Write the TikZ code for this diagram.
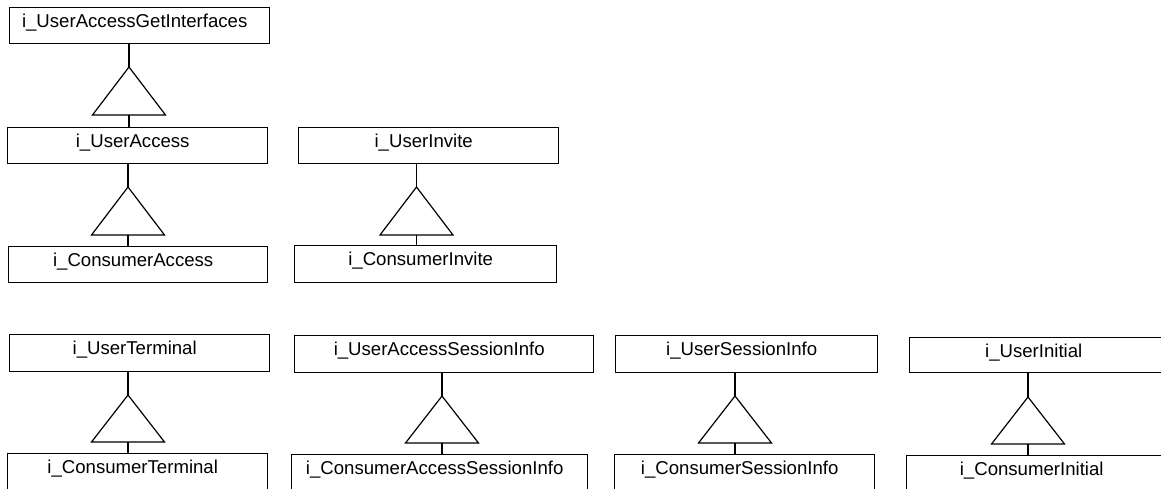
\documentclass[tikz,border=0pt]{standalone}
\usepackage{fontspec}
\setmainfont{Liberation Sans}
\begin{document}
\begin{tikzpicture}[x=1pt, y=-1pt, line width=1.4pt,
  box/.style={draw, rectangle, anchor=north west, inner xsep=0pt, inner ysep=0pt,
    text height=20pt, font=\fontsize{18.6}{22}\selectfont,
    execute at end node=\hspace{10pt}},
  bhead/.style={text depth=16pt},
  btail/.style={text depth=20pt}]
% page frame: the lower row and the right column run past the edge
\useasboundingbox (0,0) rectangle (1161,489);
\fill[white] (0,0) rectangle (1161,489);
\clip (0,0) rectangle (1161,489);

% generalisation: parent, child, x, apex y, base y
\newcommand\gen[5]{%
  \coordinate (#1-apex) at (#3,#4);
  \coordinate (#1-base) at (#3,#5);
  \draw (#1.south -| #1-apex) -- (#1-apex);
  \draw[line join=miter, line width=1.2pt] (#1-apex) -- ([xshift=-36.5pt]#1-base) -- ([xshift=36.5pt]#1-base) -- cycle;
  \draw (#1-base) -- (#2.north -| #1-base);}

% first column
\node[box, bhead, minimum width=260pt] (gi) at (9,7) {i\_UserAccessGetInterfaces};
\node[box, bhead, minimum width=260pt] (ua) at (7,127) {i\_UserAccess};
\node[box, bhead, minimum width=259pt] (ca) at (8,246) {i\_ConsumerAccess};
\gen{gi}{ua}{129}{67}{115}
\gen{ua}{ca}{128}{187}{235}

% invite
\node[box, bhead, minimum width=260pt] (ui) at (298,127) {i\_UserInvite};
\node[box, minimum width=262pt, text depth=17pt] (ci) at (294,245) {i\_ConsumerInvite};
\gen{ui}{ci}{416.5}{187}{235}

% lower row
\node[box, minimum width=260pt, text depth=17pt] (ut) at (9,334) {i\_UserTerminal};
\node[box, btail, minimum width=260pt] (ct) at (7,453) {i\_ConsumerTerminal};
\gen{ut}{ct}{128}{395}{442}

\node[box, minimum width=299pt, text depth=17pt] (uasi) at (294,335) {i\_UserAccessSessionInfo};
\node[box, btail, minimum width=296pt] (casi) at (291,454) {i\_ConsumerAccessSessionInfo};
\gen{uasi}{casi}{442}{396}{443}

\node[box, minimum width=262pt, text depth=17pt] (usi) at (615,335) {i\_UserSessionInfo};
\node[box, btail, minimum width=260pt] (csi) at (614,454) {i\_ConsumerSessionInfo};
\gen{usi}{csi}{735}{396}{443}

\node[box, minimum width=258pt, text depth=15pt] (uin) at (909,337) {i\_UserInitial};
\node[box, btail, minimum width=260pt] (cin) at (906,455) {i\_ConsumerInitial};
\gen{uin}{cin}{1028}{397}{444}
\end{tikzpicture}
\end{document}
